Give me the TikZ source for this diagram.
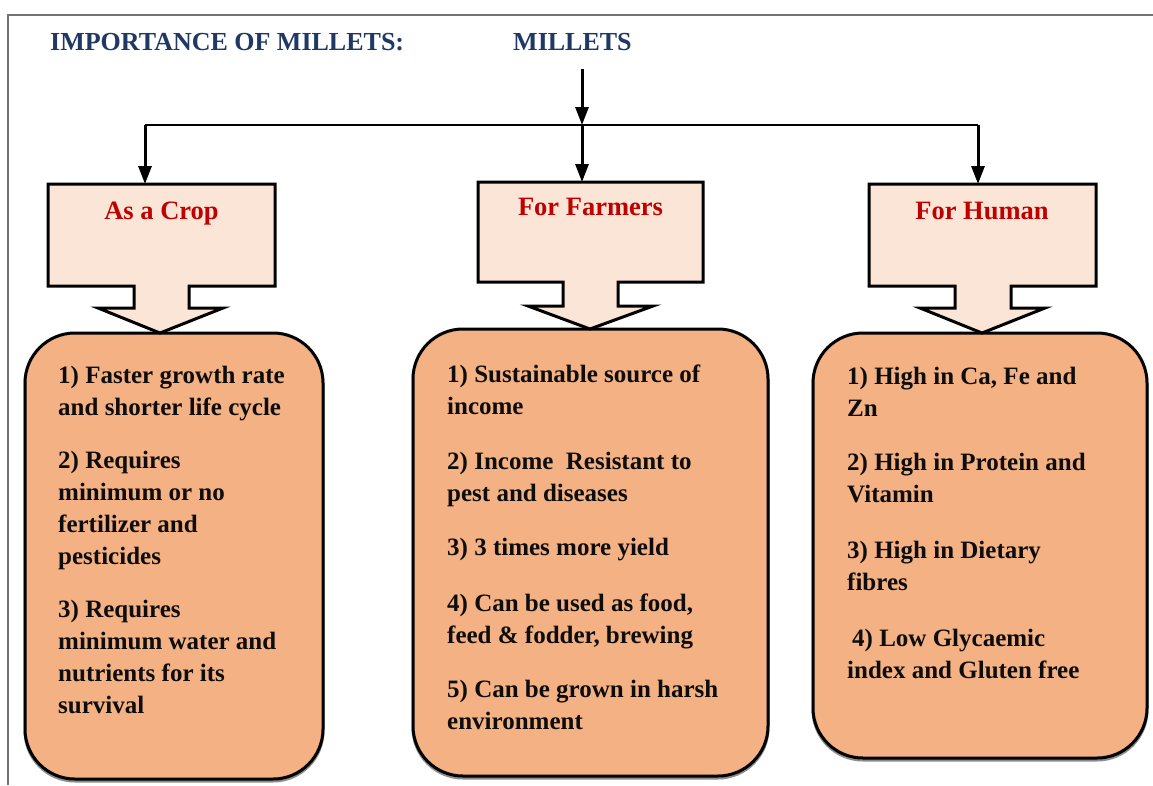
\documentclass[tikz,border=0pt]{standalone}
\usepackage{fontspec}
\setmainfont{Liberation Serif}
\usetikzlibrary{arrows.meta}
\definecolor{navy}{HTML}{1F3864}
\definecolor{lblred}{HTML}{C00000}
\definecolor{callfill}{HTML}{FBE5D6}
\definecolor{boxfill}{HTML}{F4B183}
\begin{document}
\begin{tikzpicture}[x=1pt,y=-1pt,
  frame/.style={draw=black!55, line width=1.5pt},
  callout/.style={fill=callfill, draw=black, line width=3pt, line join=miter},
  infobox/.style={fill=boxfill, draw=black, line width=3pt, rounded corners=50pt,
    preaction={draw=black!45, line width=3pt, transform canvas={yshift=-2pt}}},
  conn/.style={line width=3pt, -{Triangle[length=18pt,width=13pt]}},
  split/.style={line width=1.5pt},
  titletext/.style={font=\bfseries\fontsize{26}{30}\selectfont, text=navy, inner sep=0pt, anchor=base west},
  lbl/.style={font=\bfseries\fontsize{26.5}{30}\selectfont, text=lblred, inner sep=0pt, anchor=base},
  body/.style={font=\bfseries\fontsize{25}{32}\selectfont, text=black!95, inner sep=0pt, anchor=north west, align=left}]
\useasboundingbox (0,0) rectangle (1153,785);
\fill[white] (0,0) rectangle (1153,785);
% frame
\draw[frame] (8,785) -- (8,15) -- (1153,15);
% titles
\node[titletext] (imp) at (50,50) {IMPORTANCE OF MILLETS:};
\node[titletext] (mil) at (513,50) {MILLETS};
% connectors
\coordinate (mstart) at (582,69);
\coordinate (hub) at (582,125);
\coordinate (hl) at (145,125);
\coordinate (hr) at (978,125);
\coordinate (t1) at (145,184);
\coordinate (t2) at (582,182);
\coordinate (t3) at (978,184);
\draw[split] (hl) -- (hr);
\draw[conn] (mstart) -- (hub);
\draw[conn] (hl) -- (t1);
\draw[conn] (hub) -- (t2);
\draw[conn] (hr) -- (t3);
% info boxes
\draw[infobox] (25,333) rectangle (323,779);
\draw[infobox] (413,329) rectangle (768,776);
\draw[infobox] (813,333) rectangle (1147,758);
% callouts
\draw[callout] (48,184) -- (275,184) -- (275,286) -- (189,286) -- (189,308) -- (223,308) -- (160,333) -- (98,308) -- (134,308) -- (134,286) -- (48,286) -- cycle;
\draw[callout] (478,182) -- (703,182) -- (703,282) -- (618,282) -- (618,306) -- (653,306) -- (590,329) -- (528,306) -- (563,306) -- (563,282) -- (478,282) -- cycle;
\draw[callout] (869,184) -- (1096,184) -- (1096,286) -- (1011,286) -- (1011,308) -- (1045,308) -- (982,333) -- (920,308) -- (955,308) -- (955,286) -- (869,286) -- cycle;
\node[lbl] (crop) at (161.5,219) {As a Crop};
\node[lbl] (farm) at (590.5,215) {For Farmers};
\node[lbl] (hum) at (982,219) {For Human};
% body texts
\node[body] (b1) at (58,366) {1) Faster growth rate\\and shorter life cycle\\[21pt]
2) Requires\\minimum or no\\fertilizer and\\pesticides\\[21pt]
3) Requires\\minimum water and\\nutrients for its\\survival};
\node[body] (b2) at (447,365) {1) Sustainable source of\\income\\[23pt]
2) Income~ Resistant to\\pest and diseases\\[22pt]
3) 3 times more yield\\[24pt]
4) Can be used as food,\\feed \& fodder, brewing\\[22pt]
5) Can be grown in harsh\\environment};
\node[body] (b3) at (847,367) {1) High in Ca, Fe and\\Zn\\[22pt]
2) High in Protein and\\Vitamin\\[24pt]
3) High in Dietary\\fibres\\[24pt]
\hspace*{5pt}4) Low Glycaemic\\index and Gluten free};
\end{tikzpicture}
\end{document}
